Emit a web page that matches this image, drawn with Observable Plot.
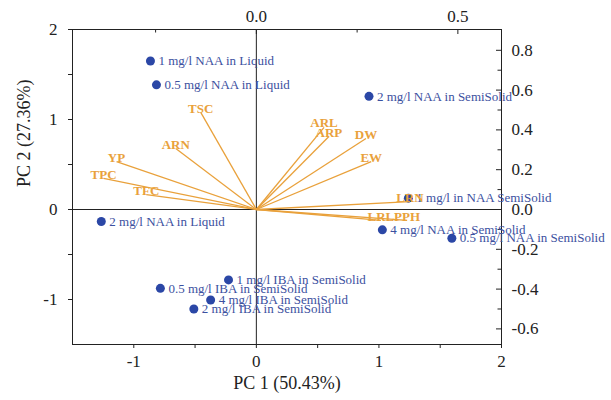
<!DOCTYPE html>
<html>
<head>
<meta charset="utf-8">
<script src="https://cdn.jsdelivr.net/npm/d3@7"></script>
<script src="https://cdn.jsdelivr.net/npm/@observablehq/plot@0.6"></script>
<style>
  html, body { margin: 0; padding: 0; background: #fff; }
  #chart { width: 611px; height: 400px; }
</style>
</head>
<body>
<div id="chart"></div>
<script>
// ---- Scores (PC1, PC2) ----
const treatments = [
  "1 mg/l NAA in Liquid",
  "0.5 mg/l NAA in Liquid",
  "2 mg/l NAA in SemiSolid",
  "1 mg/l in NAA SemiSolid",
  "4 mg/l NAA in SemiSolid",
  "0.5 mg/l NAA in SemiSolid",
  "2 mg/l NAA in Liquid",
  "1 mg/l IBA in SemiSolid",
  "0.5 mg/l IBA in SemiSolid",
  "4 mg/l IBA in SemiSolid",
  "2 mg/l IBA in SemiSolid"
];
const scorePC1 = [-0.864, -0.815, 0.919, 1.240, 1.028, 1.595, -1.265, -0.227, -0.783, -0.373, -0.510];
const scorePC2 = [1.650, 1.385, 1.257, 0.126, -0.226, -0.319, -0.133, -0.782, -0.876, -1.005, -1.105];

// ---- Loadings (read on top / right axes) ----
const variables = ["TSC", "ARN", "YP", "TPC", "TFC", "ARL", "ARP", "DW", "EW", "LRN", "LRL", "PPH"];
const loadPC1 = [-0.138, -0.200, -0.347, -0.379, -0.273, 0.168, 0.180, 0.272, 0.285, 0.381, 0.309, 0.374];
const loadPC2 = [0.488, 0.307, 0.241, 0.156, 0.075, 0.413, 0.367, 0.357, 0.241, 0.040, -0.055, -0.055];

// ---- Tick values ----
const xMajor = [-1, 0, 1, 2];
const xMinor = [-0.5, 0.5, 1.5];
const yMajor = [-1, 0, 1, 2];
const yMinor = [-0.5, 0.5, 1.5];
const topMajor = [0.0, 0.5];
const topMinor = [-0.25, 0.25];
const rightMajor = [-0.6, -0.4, -0.2, 0.0, 0.2, 0.4, 0.6, 0.8];
const rightMinor = [-0.5, -0.3, -0.1, 0.1, 0.3, 0.5, 0.7];

// biplot scaling of the loading axes relative to the score axes
const kx = 3.288, ky = 2.211;

const scores = treatments.map((t, i) => ({name: t, x: scorePC1[i], y: scorePC2[i]}));
const loads = variables.map((v, i) => ({name: v, x: loadPC1[i] * kx, y: loadPC2[i] * ky}));

const orange = "#E9A13B";
const dotBlue = "#2B47A6";
const textBlue = "#3B50A0";
const font = "'Liberation Serif', 'DejaVu Serif', serif";
const W = 611, H = 400, mL = 72, mR = 110, mT = 29, mB = 56;
const fw = W - mL - mR, fh = H - mT - mB;

const chart = Plot.plot({
  width: W,
  height: H,
  marginLeft: mL,
  marginRight: mR,
  marginTop: mT,
  marginBottom: mB,
  style: {fontFamily: font, fontSize: "17px", color: "#222", background: "#fff"},
  x: {domain: [-1.5, 2], axis: null},
  y: {domain: [-1.5, 2], axis: null},
  marks: [
    Plot.ruleX([0], {stroke: "#222", strokeWidth: 1}),
    Plot.ruleY([0], {stroke: "#222", strokeWidth: 1}),
    // bottom axis
    Plot.axisX(xMajor, {anchor: "bottom", tickSize: 4, tickPadding: 6, fontSize: 17, label: null, tickFormat: d => String(d), stroke: "#222"}),
    Plot.axisX(xMinor, {anchor: "bottom", tickSize: 4, label: null, tickFormat: () => "", stroke: "#222"}),
    // left axis
    Plot.axisY(yMajor, {anchor: "left", tickSize: 4, tickPadding: 11, fontSize: 17, label: null, tickFormat: d => String(d), stroke: "#222"}),
    Plot.axisY(yMinor, {anchor: "left", tickSize: 4, label: null, tickFormat: () => "", stroke: "#222"}),
    // top axis (loadings PC1)
    Plot.axisX(topMajor.map(d => d * kx), {anchor: "top", tickSize: 0, tickPadding: 8, fontSize: 17, label: null, tickFormat: d => (d / kx).toFixed(1)}),
    Plot.ruleX(topMajor.map(d => d * kx), {stroke: "#222", insetBottom: fh - 5}),
    Plot.ruleX(topMinor.map(d => d * kx), {stroke: "#222", insetBottom: fh - 3.5}),
    // right axis (loadings PC2)
    Plot.axisY(rightMajor.map(d => d * ky), {anchor: "right", tickSize: 0, tickPadding: 10, fontSize: 17, label: null, tickFormat: d => (d / ky).toFixed(1)}),
    Plot.ruleY(rightMajor.map(d => d * ky), {stroke: "#222", insetLeft: fw - 5}),
    Plot.ruleY(rightMinor.map(d => d * ky), {stroke: "#222", insetLeft: fw - 3.5}),
    Plot.frame({stroke: "#222", strokeWidth: 1}),
    // scores
    Plot.dot(scores, {x: "x", y: "y", r: 4.5, fill: dotBlue, stroke: null}),
    Plot.text(scores, {x: "x", y: "y", text: "name", textAnchor: "start", dx: 8, fontSize: 13, fill: textBlue}),
    // loadings
    Plot.link(loads, {x1: () => 0, y1: () => 0, x2: "x", y2: "y", stroke: orange, strokeWidth: 1.3}),
    Plot.text(loads, {x: "x", y: "y", text: "name", dy: -4, fontSize: 13, fontWeight: "bold", fill: orange}),
    // axis titles
    Plot.text(["PC 1 (50.43%)"], {frameAnchor: "bottom", dy: 44, fontSize: 18, fill: "#222"}),
    Plot.text(["PC 2 (27.36%)"], {frameAnchor: "left", dx: -48, rotate: -90, fontSize: 18, fill: "#222"})
  ]
});
document.getElementById("chart").appendChild(chart);
</script>
</body>
</html>
